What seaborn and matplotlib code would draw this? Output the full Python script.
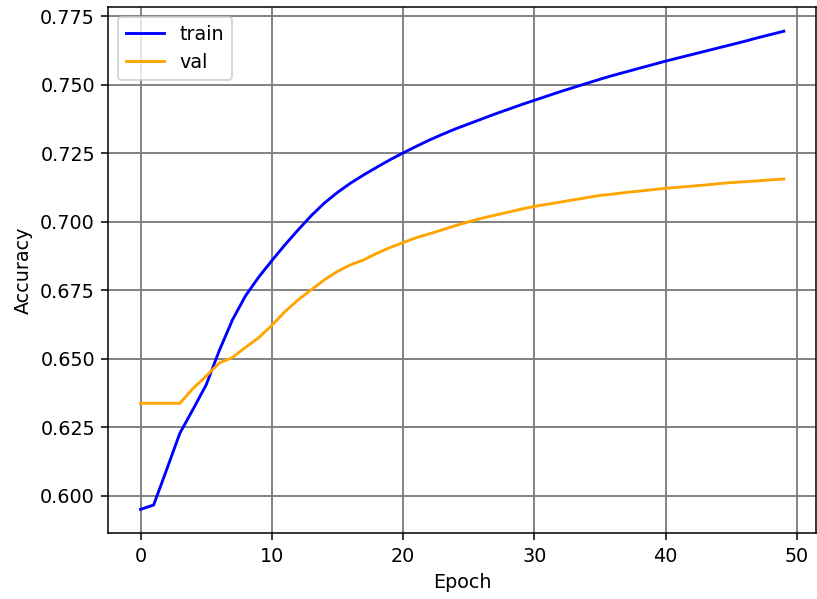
import matplotlib
matplotlib.use("Agg")
import matplotlib.pyplot as plt
import seaborn as sns
import pandas as pd

# Values
epochs = list(range(50))
train_acc = [0.5951, 0.5967, 0.6097, 0.6229, 0.6316, 0.6405, 0.6530, 0.6642, 0.6730, 0.6798,
             0.6858, 0.6916, 0.6970, 0.7022, 0.7068, 0.7107, 0.7141, 0.7171, 0.7199, 0.7226,
             0.7251, 0.7275, 0.7298, 0.7319, 0.7339, 0.7357, 0.7375, 0.7393, 0.7410, 0.7427,
             0.7443, 0.7459, 0.7475, 0.7490, 0.7505, 0.7520, 0.7534, 0.7547, 0.7560, 0.7573,
             0.7586, 0.7598, 0.7610, 0.7622, 0.7634, 0.7646, 0.7658, 0.7671, 0.7683, 0.7695]
val_acc = [0.6338, 0.6338, 0.6338, 0.6338, 0.6392, 0.6437, 0.6485, 0.6505, 0.6542, 0.6577,
           0.6622, 0.6672, 0.6715, 0.6752, 0.6788, 0.6819, 0.6843, 0.6861, 0.6885, 0.6906,
           0.6924, 0.6942, 0.6956, 0.6971, 0.6986, 0.7000, 0.7013, 0.7024, 0.7035, 0.7046,
           0.7056, 0.7064, 0.7072, 0.7080, 0.7088, 0.7096, 0.7101, 0.7107, 0.7112, 0.7117,
           0.7122, 0.7126, 0.7130, 0.7134, 0.7139, 0.7143, 0.7146, 0.7149, 0.7153, 0.7156]

df = pd.DataFrame({"Epoch": epochs, "train": train_acc, "val": val_acc})
long_df = df.melt(id_vars="Epoch", var_name="split", value_name="Accuracy")

DPI = 138
fig, ax = plt.subplots(figsize=(817 / DPI, 599 / DPI), dpi=DPI)
fig.subplots_adjust(left=0.1326, right=0.9988, top=0.9878, bottom=0.1097)

sns.lineplot(data=long_df, x="Epoch", y="Accuracy", hue="split",
             palette={"train": "blue", "val": "orange"}, linewidth=1.5, ax=ax)

ax.grid(True, color="gray", linewidth=1.0)
ax.set_axisbelow(True)
ax.legend(loc="upper left")
ax.set_xlabel("Epoch")
ax.set_ylabel("Accuracy")

fig.savefig("out.png", dpi=DPI)
